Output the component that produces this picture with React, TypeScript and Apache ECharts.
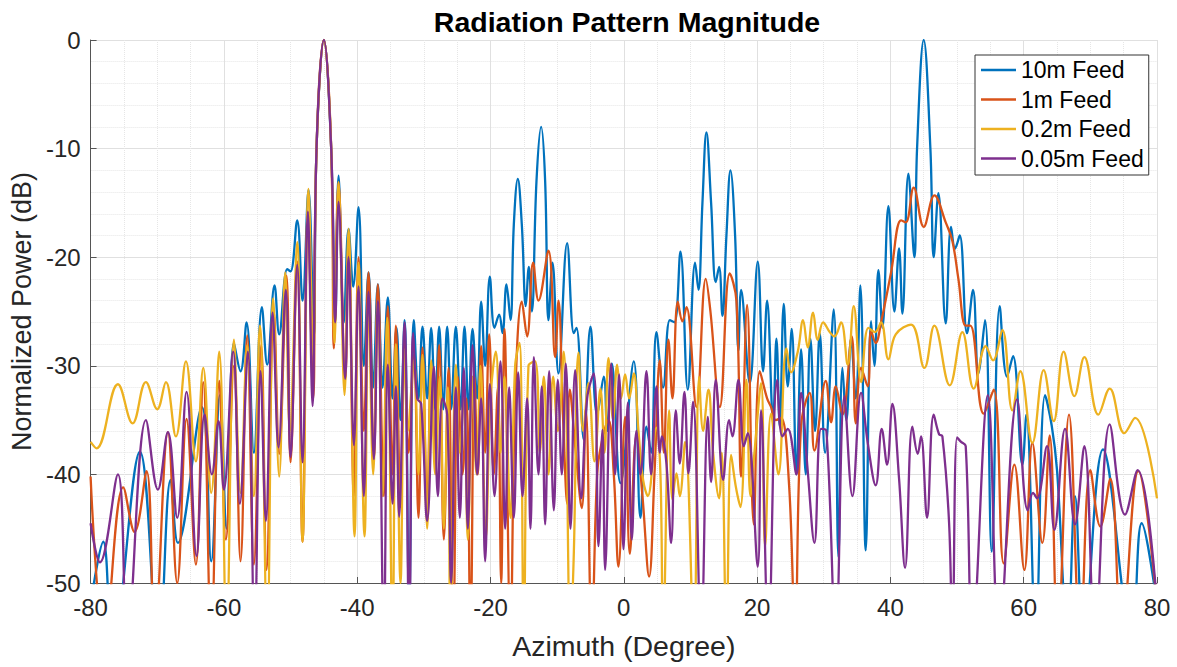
import React, { useEffect, useRef } from "react";
import * as echarts from "echarts";

// [azimuth (deg), normalized power (dB)] (lobe peaks and nulls)
const feed10m: [number, number][] = [
  [-80, -52], [-78.1, -46.2], [-76.7, -56], [-72.6, -37.9], [-69.8, -56], [-68, -40.5], [-66.9, -46.3],
  [-63.3, -33.8], [-61.9, -48], [-60.6, -32.7], [-59.6, -45], [-58.5, -27.9], [-57.5, -30.5], [-56.6, -26],
  [-55.5, -38], [-54.3, -24.6], [-53.5, -29.9], [-52.4, -22.6], [-51.7, -27.1], [-50.5, -21.1], [-50.0, -21.3],
  [-49.0, -16.6], [-48.2, -24], [-47.3, -13.8], [-46.5, -27.3], [-46.1, -10], [-45, 0], [-43.9, -10],
  [-43.3, -26], [-42.8, -12.5], [-42.0, -26], [-41.3, -17.4], [-40.6, -22.7], [-39.8, -15.4], [-39.0, -30],
  [-38.3, -21.4], [-37.6, -32], [-36.9, -22.5], [-36.2, -32], [-35.4, -23.7], [-34.7, -33], [-34.1, -26.5],
  [-33.5, -35], [-32.9, -25.8], [-32.2, -52], [-31.5, -25.8], [-30.8, -33], [-30.2, -26.4], [-29.5, -33],
  [-28.9, -26.5], [-28.3, -34], [-27.7, -26.4], [-27.1, -34], [-26.5, -26.4], [-25.9, -34], [-25.2, -26.4],
  [-24.5, -34], [-23.9, -26.4], [-23.3, -34], [-22.7, -26.6], [-22.0, -33], [-21.4, -24.1], [-20.8, -30],
  [-20.1, -21.8], [-19.4, -26.5], [-18.7, -25.3], [-18.2, -27], [-17.6, -22.5], [-17.0, -25.8], [-16.5, -17],
  [-15.9, -12.8], [-15.3, -17], [-14.7, -24.5], [-14.25, -20.9], [-13.8, -25], [-13.1, -13], [-12.4, -8.0],
  [-11.8, -13], [-11.3, -25.8], [-10.7, -20.5], [-9.8, -30.7], [-8.5, -18.7], [-7.5, -27], [-7.1, -26.5],
  [-6.0, -36.8], [-5.0, -26.4], [-4.0, -34.5], [-3.0, -31], [-2.5, -36], [-1.8, -29.8], [-0.5, -40.8],
  [1.5, -29.6], [2.5, -44], [3.4, -35.6], [4.1, -38], [4.9, -26.9], [5.9, -32], [6.9, -25.8], [7.6, -26],
  [8.5, -19.5], [9.6, -32.2], [10.7, -20.5], [11.2, -23], [11.8, -15], [12.4, -8.5], [13.1, -15], [13.8, -22.3],
  [14.3, -20.9], [14.8, -25.4], [15.4, -18], [16.0, -12.0], [16.7, -18], [17.2, -28.6], [17.6, -23],
  [18.9, -31.6], [20.1, -20.4], [20.9, -30.5], [21.5, -24], [22.4, -35], [22.9, -27.5], [23.4, -35.6],
  [24.0, -24.3], [24.6, -31.9], [25.2, -26.6], [25.9, -40], [26.6, -28.5], [27.3, -40], [28.0, -27.5],
  [28.7, -36], [29.4, -27], [30.2, -38], [31.5, -24.8], [32.2, -47.6], [32.8, -30.2], [33.4, -35], [34.1, -27.5],
  [34.8, -33], [35.5, -22.6], [36.3, -47], [37.1, -25.9], [37.6, -30], [38.2, -21.2], [38.8, -26.5],
  [39.7, -15.3], [40.6, -25], [41.3, -19.2], [41.8, -25.2], [42.7, -12.3], [43.6, -20], [44.0, -10], [45, 0],
  [46.0, -10], [46.5, -20], [47.2, -14.1], [48.3, -26.1], [49.1, -17.2], [49.7, -19.2], [50.4, -18.0],
  [51.5, -27], [52.4, -23], [53.2, -30.7], [54.2, -25.8], [55.2, -47.1], [56.4, -24.5], [57.5, -31],
  [58.4, -29.1], [59.8, -39.1], [60.4, -34.5], [61.8, -55], [63.2, -32.7], [64.2, -35.5], [65.0, -39.6],
  [66.6, -55], [67.7, -42], [69.0, -55], [71.9, -37.7], [76.2, -55], [77.7, -44.5], [80, -52],
];

const feed1m: [number, number][] = [
  [-80, -40.2], [-77.9, -55], [-75.1, -41.2], [-73.4, -45.3], [-71.6, -39.7], [-70.4, -55], [-68.4, -36.1],
  [-67.0, -50], [-65.6, -34.9], [-64.2, -48.3], [-63.1, -31.5], [-61.9, -55], [-60.7, -31.4], [-59.7, -46],
  [-58.5, -30], [-57.5, -48], [-56.5, -27.2], [-55.5, -48.3], [-54.4, -28.1], [-53.6, -48.8], [-52.5, -25],
  [-51.7, -38.1], [-50.6, -21.7], [-50.0, -38.9], [-49.0, -20.4], [-48.2, -46.2], [-47.4, -15.8], [-46.6, -33],
  [-46.1, -10], [-45, 0], [-43.9, -10], [-43.5, -28.4], [-42.8, -13.1], [-41.8, -31.4], [-41.3, -18.4],
  [-40.5, -42], [-39.8, -20], [-39.0, -36], [-38.3, -21.4], [-37.5, -38.6], [-36.9, -22.5], [-36.0, -42],
  [-35.4, -24.5], [-34.7, -40], [-34.2, -26.3], [-33.5, -43], [-32.9, -27.6], [-32.3, -38], [-31.5, -29],
  [-30.8, -44], [-30.2, -28.3], [-29.5, -43], [-28.9, -30], [-28.3, -38], [-27.7, -28.1], [-27.0, -46],
  [-26.3, -30.2], [-25.6, -55], [-24.9, -31], [-24.2, -40], [-23.6, -33], [-23.0, -55], [-22.4, -31],
  [-21.9, -40], [-21.4, -28.2], [-20.8, -38], [-20.2, -27.1], [-19.5, -40], [-18.9, -32], [-18.4, -50],
  [-17.9, -26.6], [-17.0, -55], [-16.3, -33], [-15.3, -24.1], [-14.5, -27.3], [-13.6, -20.5], [-12.8, -24],
  [-11.3, -19.4], [-10.3, -29.2], [-9.8, -24], [-9.1, -35], [-8.5, -42.7], [-8.1, -32.2], [-7.2, -38],
  [-6.3, -43.1], [-5.7, -34], [-4.8, -55], [-4.0, -40], [-3.3, -37], [-2.3, -35], [-1.5, -40], [-0.8, -48.5],
  [0.2, -34.7], [0.9, -47.3], [1.9, -36.4], [2.8, -42], [3.8, -49.4], [4.6, -40], [5.4, -29.5], [6.0, -38],
  [6.7, -27.6], [7.3, -33], [8.1, -24.1], [8.8, -25.9], [9.4, -24.6], [10.9, -33.8], [12.3, -22], [13.0, -25],
  [14.4, -33.8], [15.9, -21.5], [16.9, -24], [17.6, -40.2], [18.5, -24.4], [19.5, -44.6], [20.4, -30.5],
  [21.5, -33], [22.1, -33.8], [22.8, -35], [23.6, -34.8], [24.8, -41], [25.7, -55], [26.6, -35.5],
  [27.9, -32.5], [28.6, -37.8], [30.3, -31.4], [31.1, -35.2], [31.8, -31.9], [32.8, -34.5], [34.2, -27.3],
  [34.8, -35.3], [35.6, -30.2], [36.6, -31.9], [37.1, -26.8], [37.8, -27.9], [38.6, -26], [40.1, -21.4],
  [41.6, -16.6], [42.3, -16.8], [43.5, -13.6], [45.0, -17.2], [46.6, -14.3], [48.3, -16.8], [49.3, -18.5],
  [50.2, -22], [51.3, -26.3], [52.0, -26.3], [54.0, -34.4], [55.5, -32.2], [57.0, -48.2], [58.6, -39.1],
  [60.1, -48.8], [61.3, -37.1], [62.8, -46.3], [63.9, -36.4], [65.1, -55], [66.8, -34.5], [68.5, -55],
  [70.0, -39.6], [71.5, -44.8], [73.0, -40.4], [74.7, -55], [77.2, -39.7], [80, -52],
];

const feed02m: [number, number][] = [
  [-80, -37.0], [-79.1, -37.6], [-75.9, -31.7], [-73.7, -35.3], [-71.7, -31.5], [-70.0, -34.0], [-68.7, -31.5],
  [-67.2, -36.5], [-65.7, -29.6], [-64.2, -38.8], [-63.1, -30.2], [-61.9, -41.7], [-60.7, -28.7], [-59.6, -55],
  [-58.5, -27.6], [-57.5, -41.7], [-56.5, -28.1], [-55.5, -42], [-54.6, -26.3], [-53.5, -55], [-52.6, -23.8],
  [-51.7, -40.2], [-50.8, -21.4], [-50.1, -36], [-49.0, -18.6], [-48.2, -46.2], [-47.3, -13.7], [-46.6, -29],
  [-46.1, -10], [-45, 0], [-43.9, -10], [-43.4, -27.9], [-42.8, -13.1], [-41.9, -32.7], [-41.3, -17.4],
  [-40.4, -45.7], [-39.8, -20.5], [-38.9, -45.7], [-38.3, -23.8], [-37.6, -40], [-36.9, -24], [-36.2, -42],
  [-35.5, -25.6], [-34.7, -55], [-34.2, -28], [-33.5, -50], [-32.9, -28.5], [-32.4, -36], [-31.5, -29.5],
  [-30.8, -40], [-30.2, -29], [-29.5, -45], [-28.9, -29.5], [-28.3, -40], [-27.6, -31], [-27.0, -45],
  [-26.4, -32], [-26.0, -55], [-25.2, -29.9], [-24.6, -38], [-24.0, -33], [-23.4, -46], [-22.7, -31],
  [-22.1, -40], [-21.5, -30], [-20.7, -45.8], [-20.0, -33], [-19.2, -28.7], [-18.5, -38], [-17.9, -31],
  [-17.0, -44], [-16.3, -30], [-15.65, -27.9], [-15.0, -55], [-14.3, -30], [-13.3, -29.6], [-12.6, -38],
  [-12.0, -31], [-11.3, -40], [-10.6, -31], [-9.9, -36], [-9.0, -28.7], [-8.0, -55], [-7.5, -47.3],
  [-6.8, -28.8], [-6.1, -36], [-5.3, -31.6], [-4.4, -38.8], [-3.5, -32.1], [-2.9, -38], [-2.3, -29.3],
  [-1.6, -35], [-1.0, -29.9], [-0.4, -33], [0.2, -30.8], [0.8, -33], [1.5, -30.7], [2.2, -36], [2.9, -40.5],
  [3.6, -42], [4.9, -35.7], [5.5, -40], [5.9, -55], [6.8, -34.1], [7.3, -42.3], [7.9, -39.9], [8.4, -42],
  [9.2, -37], [10.5, -55], [11.3, -31], [11.9, -36], [12.7, -32.2], [13.4, -38], [14.3, -42.2], [14.7, -38],
  [15.4, -55], [16.1, -38.2], [16.8, -41.1], [17.5, -43], [18.4, -31.3], [19.0, -42], [19.6, -38], [20.6, -31.6],
  [21.2, -46.6], [22.1, -34.4], [23.2, -40], [24.4, -28.4], [25.1, -30.6], [26.1, -28.7], [26.9, -25.8],
  [27.6, -28.3], [28.4, -25.1], [29.1, -27.6], [29.9, -26], [30.9, -26.9], [31.6, -27.3], [32.6, -26],
  [33.6, -29.9], [34.5, -24.5], [35.6, -31.5], [36.7, -26.5], [37.7, -26.9], [38.6, -26], [39.7, -29.4],
  [40.8, -27.1], [43.1, -26.2], [45.1, -30.2], [46.6, -26.3], [48.9, -31.8], [50.8, -26.9], [52.5, -32.1],
  [54.3, -28.2], [55.4, -29.5], [56.8, -26.7], [58.3, -34.1], [59.5, -30.5], [61.3, -37.1], [63.0, -30.4],
  [64.5, -35.1], [66.0, -28.7], [67.6, -32.8], [69.1, -29.2], [71.2, -34.5], [72.9, -32.1], [75.1, -36.2],
  [76.7, -34.8], [80, -42.2],
];

const feed005m: [number, number][] = [
  [-80, -44.5], [-78.6, -48.1], [-75.9, -40], [-74.5, -55], [-71.7, -35], [-69.9, -41.4], [-68.4, -36.1],
  [-67.0, -44], [-65.6, -32.4], [-64.1, -47.5], [-62.9, -34.5], [-61.8, -40], [-60.8, -35.1], [-60.0, -41.4],
  [-58.6, -28.7], [-57.6, -42.7], [-56.4, -28.7], [-55.4, -55], [-54.5, -30.5], [-53.7, -44.3], [-52.7, -25.1],
  [-51.8, -37.5], [-50.7, -23], [-50.0, -38.4], [-49.0, -20.7], [-48.2, -38.9], [-47.4, -15.8], [-46.7, -33.7],
  [-46.1, -10], [-45, 0], [-43.9, -10], [-43.3, -26], [-42.8, -14.9], [-41.8, -31.2], [-41.3, -20],
  [-40.5, -37.3], [-39.8, -22.7], [-39.0, -42], [-38.3, -23.2], [-37.5, -38.6], [-36.9, -24], [-36.0, -55],
  [-35.4, -29.9], [-34.7, -42.7], [-34.2, -31.9], [-33.7, -43.9], [-32.9, -26], [-32.2, -55], [-31.6, -27],
  [-31.0, -33], [-30.4, -33.5], [-29.5, -44.3], [-28.5, -30.1], [-27.9, -42], [-27.2, -33], [-26.5, -34.5],
  [-25.9, -50], [-25.2, -32], [-24.6, -44], [-24.0, -30.2], [-23.4, -45], [-22.7, -28.1], [-22.0, -40],
  [-21.4, -33], [-20.8, -48], [-20.1, -31.7], [-19.4, -42], [-18.5, -29.6], [-17.8, -45], [-17.2, -32],
  [-16.5, -44], [-15.85, -30.6], [-15.2, -42], [-14.5, -33], [-14.0, -45], [-13.5, -29.2], [-12.8, -40],
  [-12.3, -31.9], [-11.8, -44.6], [-11.2, -30.5], [-10.5, -43.3], [-9.9, -31.3], [-9.3, -40], [-8.7, -29.8],
  [-8.0, -45], [-7.3, -30.4], [-6.4, -42.2], [-5.5, -33], [-4.5, -30.7], [-3.8, -46.6], [-3.2, -35.9],
  [-2.8, -48.8], [-1.9, -29.8], [-1.3, -40], [-0.7, -30.8], [-0.05, -46.9], [0.6, -33.4], [1.2, -46],
  [1.9, -36], [2.5, -40], [3.4, -30.5], [4.1, -40], [4.9, -31.9], [5.4, -38], [5.7, -36.5], [6.4, -39],
  [7.1, -46.3], [7.8, -34.1], [8.4, -39], [9.1, -32.4], [9.7, -39.9], [10.4, -33.3], [11.6, -55], [12.6, -34.7],
  [13.1, -40.7], [13.8, -31.3], [14.9, -40.5], [15.8, -35], [16.3, -36.5], [17.2, -31.3], [18.0, -37.4],
  [18.6, -36.2], [20.1, -48.5], [20.6, -34.1], [21.7, -55], [23.0, -31.3], [23.8, -36.5], [24.6, -35.8],
  [25.9, -40], [26.6, -32.5], [27.6, -39.7], [28.6, -46.3], [29.6, -35.8], [30.4, -36], [31.8, -55],
  [33.1, -32.8], [34.3, -42], [35.6, -32.5], [36.6, -37.1], [37.8, -41], [38.7, -35.8], [39.5, -39.1],
  [40.3, -33.5], [41.3, -40.4], [42.2, -48.6], [43.3, -35.6], [44.1, -38.1], [44.6, -36.5], [45.5, -44],
  [46.5, -34.5], [47.3, -36.3], [47.8, -36.5], [48.8, -44.4], [49.3, -55], [50.0, -36.6], [50.6, -37],
  [51.3, -37.4], [52.3, -55], [54.6, -32.7], [56.3, -55], [59.0, -33.1], [60.6, -43.3], [61.4, -41.7],
  [62.0, -42.2], [63.5, -37.4], [64.6, -45.1], [66.2, -35.8], [67.7, -44.6], [69.1, -37.4], [70.7, -55],
  [72.9, -35.4], [75.2, -43.7], [77.1, -39.6], [80, -52],
];

const seriesNames = ["10m Feed", "1m Feed", "0.2m Feed", "0.05m Feed"];
const seriesColors = ["#0072BD", "#D95319", "#EDB120", "#7E2F8E"];
const seriesData = [feed10m, feed1m, feed02m, feed005m];

const FONT = "'Liberation Sans', Arial, Helvetica, sans-serif";

export default function App() {
  const ref = useRef<HTMLDivElement>(null);
  useEffect(() => {
    document.body.style.margin = "0";
    const chart = echarts.init(ref.current!, null, { renderer: "svg" });
    chart.setOption({
      animation: false,
      backgroundColor: "#ffffff",
      textStyle: { fontFamily: FONT },
      title: {
        text: "Radiation Pattern Magnitude",
        left: 622,
        top: 2,
        textAlign: "center",
        textStyle: { fontFamily: FONT, fontSize: 28.5, fontWeight: "bold", color: "#000" },
      },
      grid: { left: 87, right: 20, top: 40, bottom: 84, containLabel: false },
      legend: {
        data: seriesNames,
        orient: "vertical",
        left: 975,
        top: 55,
        icon: "rect",
        itemWidth: 35,
        itemHeight: 2.5,
        itemGap: 6.5,
        padding: [3.5, 5, 5, 6],
        borderColor: "#333",
        borderWidth: 1,
        backgroundColor: "#fff",
        textStyle: { fontFamily: FONT, fontSize: 23, color: "#000" },
      },
      xAxis: {
        type: "value",
        min: -80,
        max: 80,
        interval: 20,
        name: "Azimuth (Degree)",
        nameLocation: "middle",
        nameGap: 48,
        nameTextStyle: { fontFamily: FONT, fontSize: 28.5, color: "#262626" },
        axisLine: { show: true, onZero: false, lineStyle: { color: "#555", width: 1 } },
        axisTick: { show: true, inside: true, length: 6, lineStyle: { color: "#555" } },
        axisLabel: { fontFamily: FONT, fontSize: 24, color: "#262626", margin: 12 },
        splitLine: { show: true, lineStyle: { color: "#e0e0e0", width: 1 } },
        minorTick: { show: false, splitNumber: 4 },
        minorSplitLine: { show: true, lineStyle: { color: "#e6e6e6", width: 1, type: "dotted" } },
      },
      yAxis: {
        type: "value",
        min: -50,
        max: 0,
        interval: 10,
        name: "Normalized Power (dB)",
        nameLocation: "middle",
        nameGap: 46,
        nameTextStyle: { fontFamily: FONT, fontSize: 27, color: "#262626" },
        axisLine: { show: true, onZero: false, lineStyle: { color: "#555", width: 1 } },
        axisTick: { show: true, inside: true, length: 6, lineStyle: { color: "#555" } },
        axisLabel: { fontFamily: FONT, fontSize: 24, color: "#262626", margin: 10 },
        splitLine: { show: true, lineStyle: { color: "#e0e0e0", width: 1 } },
        minorTick: { show: false, splitNumber: 5 },
        minorSplitLine: { show: true, lineStyle: { color: "#e6e6e6", width: 1, type: "dotted" } },
      },
      series: seriesData.map((d, i) => ({
        name: seriesNames[i],
        type: "line",
        data: d,
        color: seriesColors[i],
        showSymbol: false,
        symbol: "none",
        smooth: 0.4,
        clip: true,
        lineStyle: { width: 2.3, color: seriesColors[i] },
      })),
    });
    return () => chart.dispose();
  }, []);
  return <div ref={ref} style={{ width: 1177, height: 667 }} />;
}
